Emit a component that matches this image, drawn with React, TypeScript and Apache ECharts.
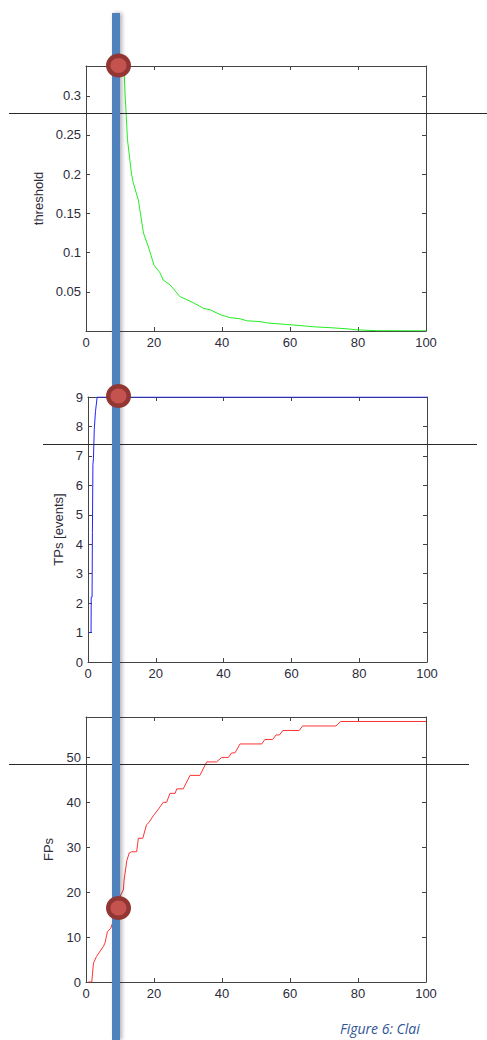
import React, { useEffect, useRef } from "react";
import * as echarts from "echarts";

// ---- data ----
const xTicks = [0, 20, 40, 60, 80, 100];

const thresholdX = [11.0, 11.5, 11.8, 12.2, 13.4, 13.9, 15.4, 16.9, 18.3, 20.0, 21.8, 22.7, 24.7, 27.6, 31.6, 34.5, 36.5, 39.4, 42.4, 45.3, 47.3, 51.2, 53.1, 59.0, 62.9, 66.9, 72.7, 76.7, 79.7, 85.5, 100];
const thresholdY = [0.36, 0.3, 0.278, 0.244, 0.2, 0.189, 0.167, 0.125, 0.108, 0.084, 0.074, 0.065, 0.059, 0.044, 0.036, 0.029, 0.027, 0.021, 0.017, 0.0156, 0.013, 0.012, 0.0104, 0.0083, 0.007, 0.0054, 0.004, 0.0028, 0.0015, 0.0004, 0.0002];

const tpX = [0.2, 0.9, 0.95, 1.2, 1.3, 1.45, 1.6, 1.85, 2.2, 2.7, 100];
const tpY = [1, 1, 2.2, 2.2, 4.4, 6.7, 6.9, 7.9, 8.5, 9, 9];

const fpX = [0.7, 1.7, 2.2, 3.1, 5.1, 5.6, 6.3, 7.3, 8.0, 10.2, 11.0, 11.2, 12.0, 12.7, 13.4, 14.9, 15.4, 16.7, 17.8, 18.5, 19.8, 21.8, 22.7, 23.7, 24.7, 26.2, 26.7, 28.6, 30.6, 33.5, 35.5, 38.4, 39.9, 41.9, 42.8, 43.8, 45.3, 51.7, 52.6, 54.9, 55.9, 56.9, 57.9, 62.7, 63.7, 73.5, 74.9, 100];
const fpY = [0, 0, 4.2, 5.7, 7.9, 8.7, 11.2, 12, 13.5, 19.4, 20.5, 22.7, 27, 28.7, 29, 29, 32, 32, 35, 35.5, 37, 39, 40, 40, 42, 42, 43, 43, 46, 46, 49, 49, 50, 50, 51, 51, 53, 53, 54, 54, 55, 55, 56, 56, 57, 57, 58, 58];

const panelNames = ["threshold", "TPs [events]", "FPs"];
const yMins = [0, 0, 0];
const yMaxs = [0.338, 9, 59];
const yIntervals = [0.05, 1, 10];
const captionText = "Figure 6: Clai";

const zip = (xs: number[], ys: number[]) => xs.map((x, i) => [x, ys[i]]);

const TXT = "#2c2c3a";
const AX = "#444";
const FONT = "Liberation Sans, Arial, sans-serif";

export default function App() {
  const ref = useRef<HTMLDivElement>(null);
  useEffect(() => {
    if (!ref.current) return;
    const chart = echarts.init(ref.current, undefined, { renderer: "svg" });

    const grids = [
      { left: 86, top: 66, width: 340, height: 265 },
      { left: 88, top: 397, width: 339, height: 265 },
      { left: 86, top: 717, width: 340, height: 265 },
    ];
    const nameGaps = [41, 21, 31];

    const xAxes: any[] = [];
    const yAxes: any[] = [];
    grids.forEach((_, g) => {
      const base = {
        gridIndex: g,
        type: "value",
        min: 0,
        max: 100,
        interval: 20,
        axisLine: { onZero: false, lineStyle: { color: AX, width: 1 } },
        axisTick: { inside: true, length: 4, lineStyle: { color: AX } },
        splitLine: { show: false },
      };
      xAxes.push({
        ...base,
        position: "bottom",
        axisLabel: { color: TXT, fontSize: 13, fontFamily: FONT, margin: 5 },
      });
      xAxes.push({ ...base, position: "top", axisLabel: { show: false } });

      const iv = yIntervals[g];
      const ybase = {
        gridIndex: g,
        type: "value",
        min: yMins[g],
        max: yMaxs[g],
        interval: iv,
        axisLine: { onZero: false, lineStyle: { color: AX, width: 1 } },
        axisTick: { inside: true, length: 4, lineStyle: { color: AX } },
        splitLine: { show: false },
      };
      yAxes.push({
        ...ybase,
        position: "left",
        name: panelNames[g],
        nameLocation: "middle",
        nameGap: nameGaps[g],
        nameTextStyle: { color: TXT, fontSize: 13, fontFamily: FONT },
        axisLabel: {
          color: TXT,
          fontSize: 13,
          fontFamily: FONT,
          margin: 5,
          showMaxLabel: g === 1,
          formatter: (v: number) => {
            const k = v / iv;
            if (Math.abs(k - Math.round(k)) > 1e-6) return "";
            if (g === 0 && v === 0) return "";
            return String(+v.toFixed(2));
          },
        },
      });
      yAxes.push({ ...ybase, position: "right", axisLabel: { show: false } });
    });

    const lineSeries = (data: number[][], g: number, color: string) => ({
      type: "line",
      xAxisIndex: g * 2,
      yAxisIndex: g * 2,
      data,
      showSymbol: false,
      symbol: "none",
      clip: true,
      lineStyle: { color, width: 1 },
      z: 3,
    });

    const bar = {
      type: "rect",
      shape: { x: 112, y: 13, width: 8, height: 1027 },
      style: {
        fill: "#4f81bd",
        shadowBlur: 4,
        shadowOffsetX: 2,
        shadowColor: "rgba(0,0,0,0.3)",
      },
      z: 20,
    };
    const hline = (y: number, x1: number, x2: number) => ({
      type: "line",
      shape: { x1, y1: y, x2, y2: y },
      style: { stroke: "#2a2a2a", lineWidth: 1 },
      z: 10,
    });
    const marker = (cx: number, cy: number) => [
      { type: "ellipse", shape: { cx, cy, rx: 12.5, ry: 12 }, style: { fill: "#923634" }, z: 30 },
      { type: "ellipse", shape: { cx, cy, rx: 8, ry: 7.5 }, style: { fill: "#c4524f" }, z: 31 },
    ];

    chart.setOption({
      animation: false,
      backgroundColor: "#ffffff",
      grid: grids,
      xAxis: xAxes,
      yAxis: yAxes,
      series: [
        lineSeries(zip(thresholdX, thresholdY), 0, "#22ee22"),
        lineSeries(zip(tpX, tpY), 1, "#2222ff"),
        lineSeries(zip(fpX, fpY), 2, "#ff3333"),
      ],
      graphic: [
        hline(113.5, 9, 487),
        hline(444.5, 43, 477),
        hline(764.5, 9, 469),
        bar,
        ...marker(118.5, 65.5),
        ...marker(118.5, 396),
        ...marker(118.5, 908),
        {
          type: "text",
          x: 340,
          y: 1021,
          style: {
            text: captionText,
            fontSize: 14,
            fontStyle: "italic",
            fontFamily: "Open Sans, sans-serif",
            fill: "#2f5597",
            textVerticalAlign: "top",
          },
          z: 40,
        },
      ],
    });
    return () => chart.dispose();
  }, []);
  return (
    <div
      ref={ref}
      style={{ position: "absolute", left: 0, top: 0, width: 487, height: 1040, background: "#fff" }}
    />
  );
}
